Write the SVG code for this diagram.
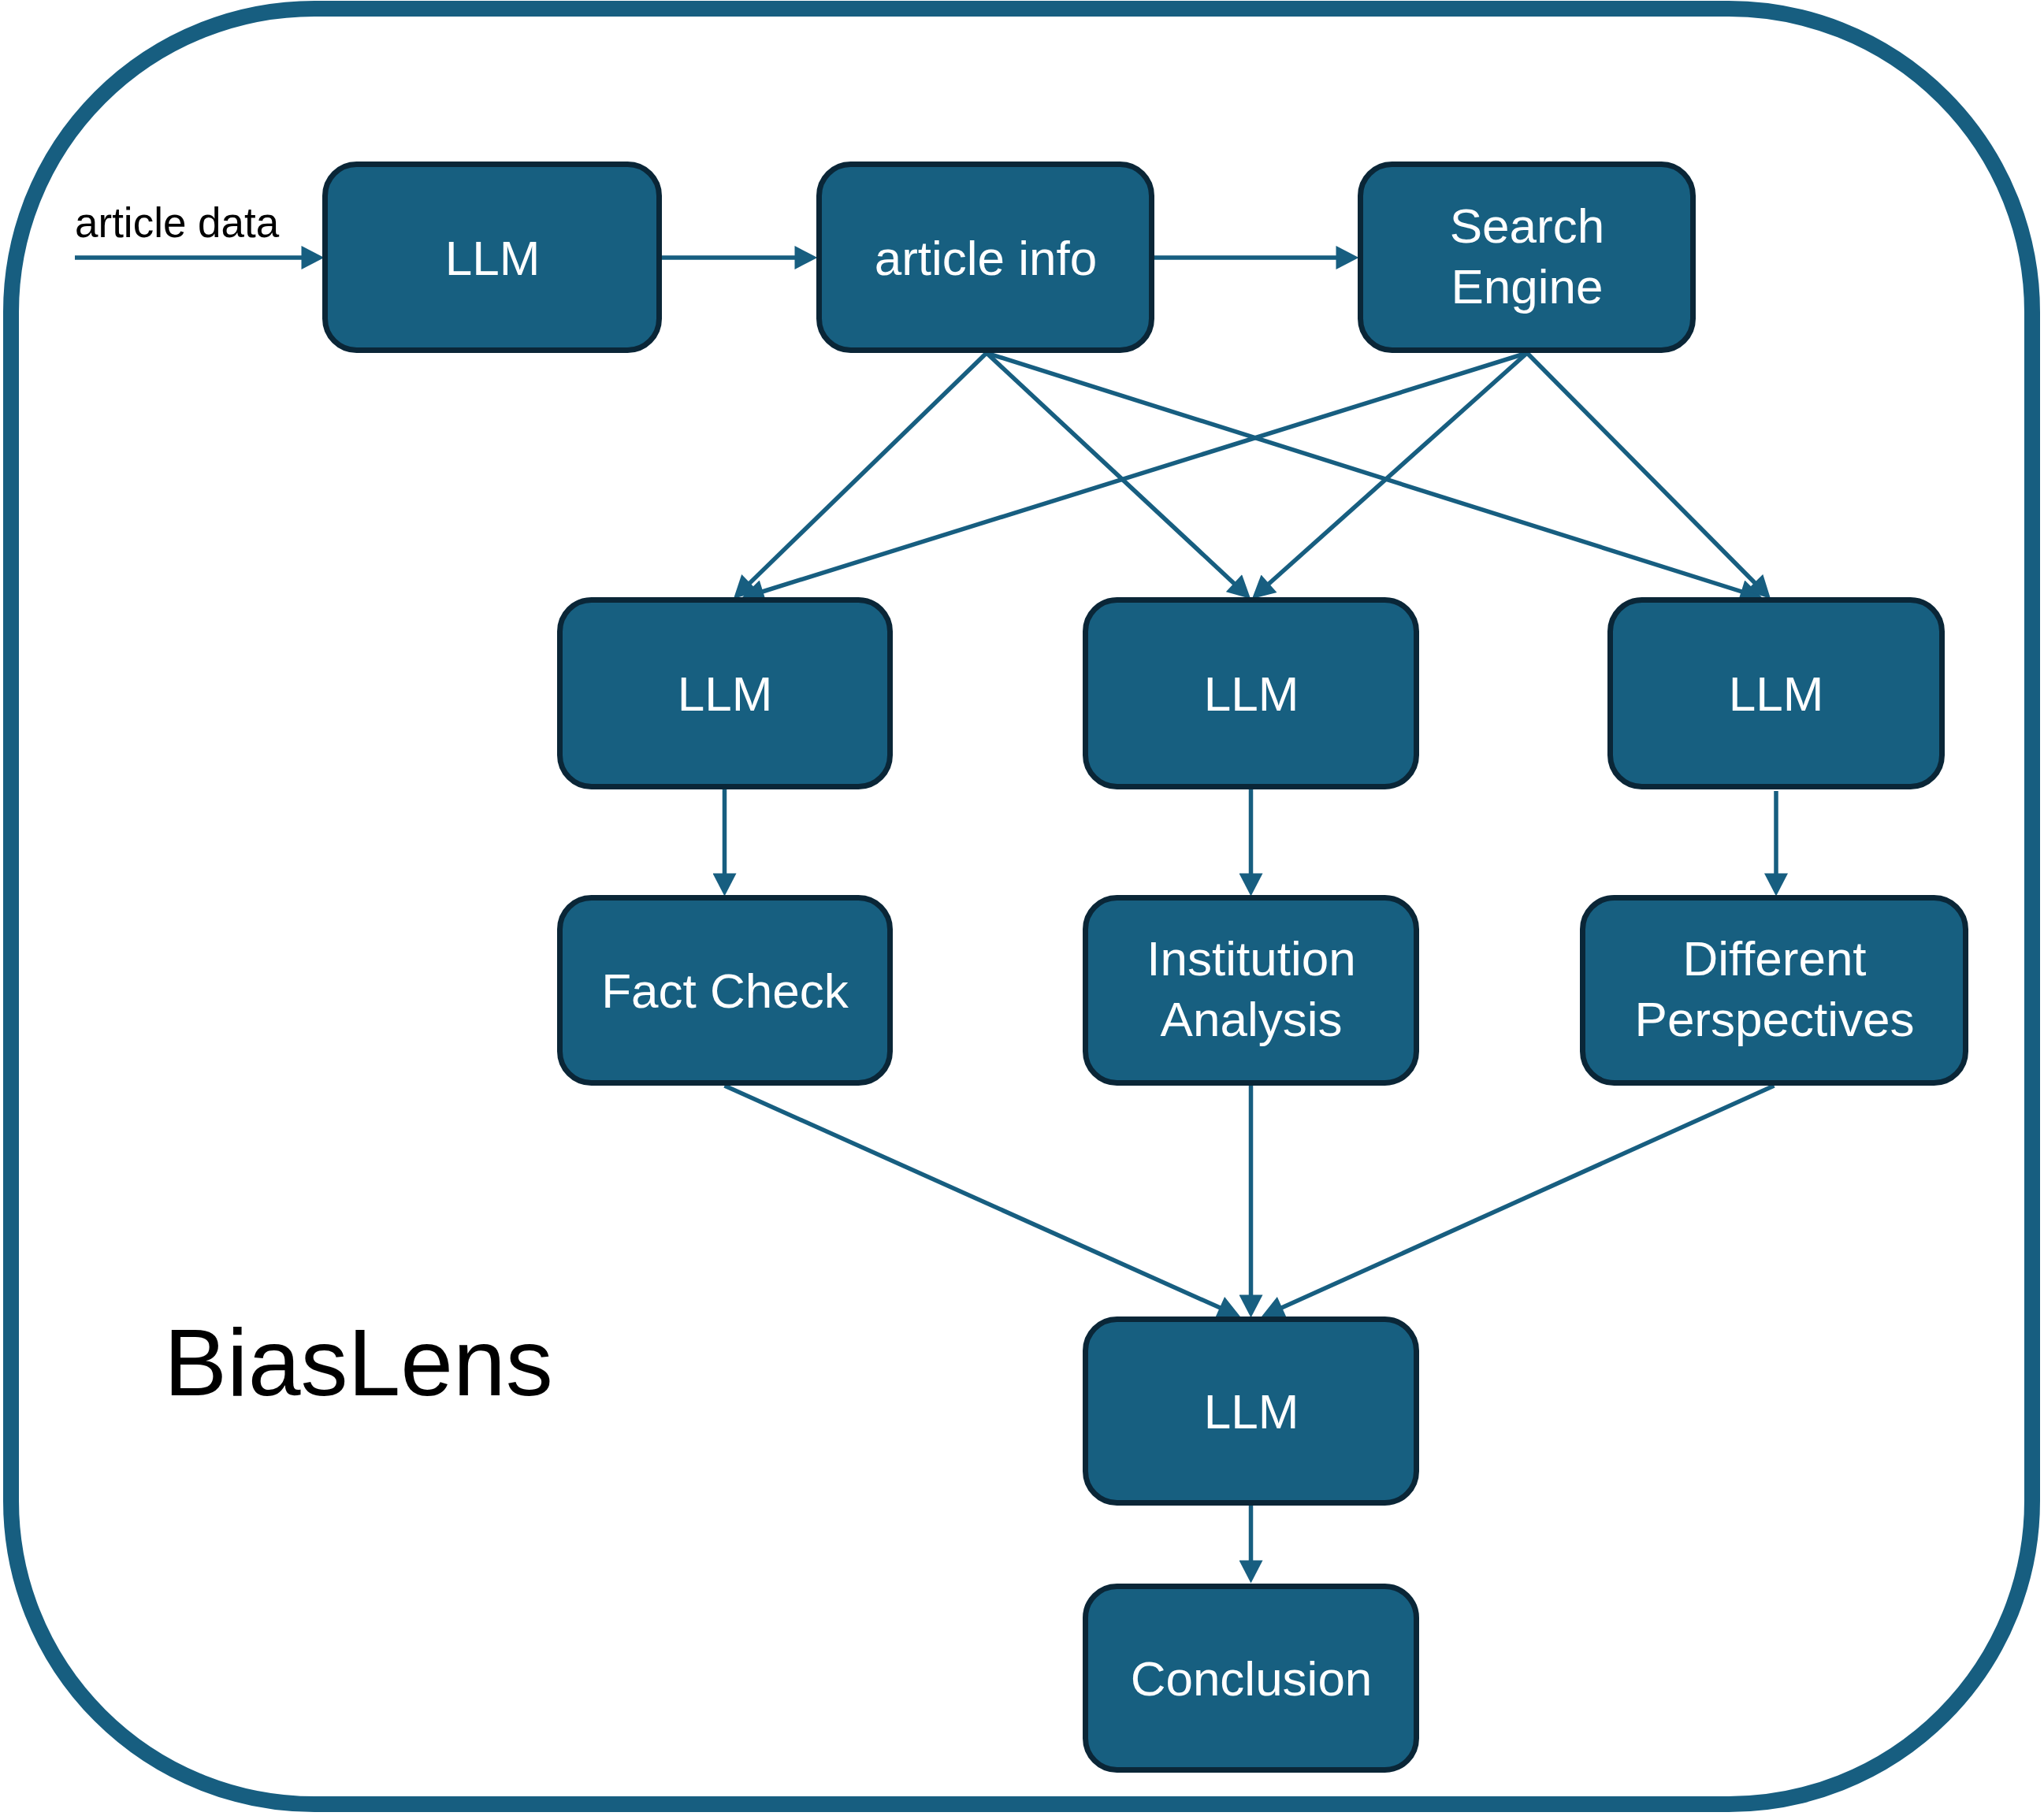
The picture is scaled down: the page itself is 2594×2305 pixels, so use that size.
<svg xmlns="http://www.w3.org/2000/svg" width="2594" height="2305" viewBox="0 0 2594 2305">
<style>
.frame{fill:#ffffff;stroke:#175E80;stroke-width:20}
.box{fill:#175F80;stroke:#0A2637;stroke-width:7}
.lbl{fill:#ffffff;font-family:"Liberation Sans",Arial,sans-serif;font-size:62px;text-anchor:middle}
.conn line{stroke:#175E80;stroke-width:5.5;marker-end:url(#ah)}
.plain{fill:#000000;font-family:"Liberation Sans",Arial,sans-serif}
</style>
<defs>
<marker id="ah" markerUnits="userSpaceOnUse" markerWidth="30" markerHeight="30" viewBox="0 0 27 28" refX="7" refY="14" orient="auto">
<path d="M0,0 L27,14 L0,28 z" fill="#175E80"/>
</marker>
</defs>
<rect class="frame" x="14" y="11" width="2565" height="2279" rx="385" ry="385"/>
<text class="plain" x="95" y="301" font-size="53">article data</text>
<text class="plain" x="208" y="1771" font-size="120">BiasLens</text>
<g class="conn" id="connectors">
<line x1="95" y1="327" x2="390" y2="327"/>
<line x1="840" y1="327" x2="1016" y2="327"/>
<line x1="1465" y1="327" x2="1703" y2="327"/>
<line x1="1252" y1="448" x2="946.3" y2="745.1"/>
<line x1="1252" y1="448" x2="1571.4" y2="745.4"/>
<line x1="1252" y1="448" x2="2216.9" y2="753"/>
<line x1="1938" y1="448" x2="961.1" y2="753"/>
<line x1="1938" y1="448" x2="1604.9" y2="745.7"/>
<line x1="1938" y1="448" x2="2231.9" y2="744.8"/>
<line x1="919.5" y1="1002" x2="919.5" y2="1116"/>
<line x1="1587.5" y1="1002" x2="1587.5" y2="1116"/>
<line x1="2254" y1="1004" x2="2254" y2="1116"/>
<line x1="919.5" y1="1378" x2="1554.8" y2="1662.8"/>
<line x1="1587.5" y1="1378" x2="1587.5" y2="1651"/>
<line x1="2251.5" y1="1378" x2="1620.2" y2="1662.8"/>
<line x1="1587.5" y1="1911" x2="1587.5" y2="1988"/>
</g>
<g id="llm-input"><rect class="box" x="412.5" y="208.5" width="424" height="236" rx="40"/><text class="lbl" x="625" y="349">LLM</text></g>
<g id="article-info"><rect class="box" x="1039.5" y="208.5" width="422" height="236" rx="40"/><text class="lbl" x="1251" y="349">article info</text></g>
<g id="search-engine"><rect class="box" x="1726.5" y="208.5" width="422" height="236" rx="40"/><text class="lbl" x="1938" y="308">Search</text><text class="lbl" x="1938" y="385">Engine</text></g>
<g id="llm-fact"><rect class="box" x="710.5" y="761.5" width="419" height="237" rx="40"/><text class="lbl" x="920" y="902">LLM</text></g>
<g id="llm-institution"><rect class="box" x="1377.5" y="761.5" width="420" height="237" rx="40"/><text class="lbl" x="1588" y="902">LLM</text></g>
<g id="llm-perspectives"><rect class="box" x="2043.5" y="761.5" width="421" height="237" rx="40"/><text class="lbl" x="2254" y="902">LLM</text></g>
<g id="fact-check"><rect class="box" x="710.5" y="1139.5" width="419" height="235" rx="40"/><text class="lbl" x="920" y="1279">Fact Check</text></g>
<g id="institution-analysis"><rect class="box" x="1377.5" y="1139.5" width="420" height="235" rx="40"/><text class="lbl" x="1588" y="1238">Institution</text><text class="lbl" x="1588" y="1315">Analysis</text></g>
<g id="different-perspectives"><rect class="box" x="2008.5" y="1139.5" width="486" height="235" rx="40"/><text class="lbl" x="2252" y="1238">Different</text><text class="lbl" x="2252" y="1315">Perspectives</text></g>
<g id="llm-final"><rect class="box" x="1377.5" y="1674.5" width="420" height="233" rx="40"/><text class="lbl" x="1588" y="1813">LLM</text></g>
<g id="conclusion"><rect class="box" x="1377.5" y="2013.5" width="420" height="233" rx="40"/><text class="lbl" x="1588" y="2152">Conclusion</text></g>
</svg>
